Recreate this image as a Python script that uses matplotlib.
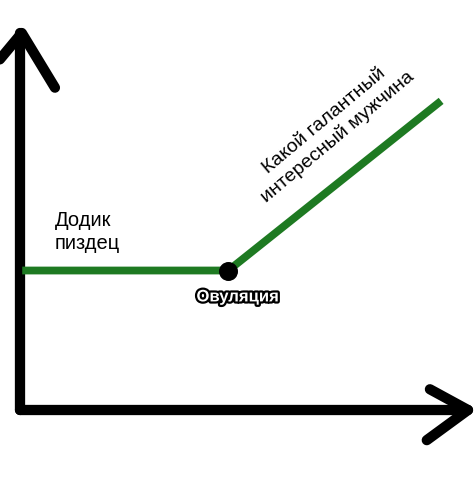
import matplotlib.pyplot as plt
import matplotlib.patheffects as pe

# Значения (условные единицы, 0..10 по обеим осям)
phase_x = [0.05, 4.65, 9.4]
mood_y = [3.7, 3.7, 8.2]
ovulation_x = 4.65
ovulation_y = 3.7

label_low = "Додик\nпиздец"
label_high = "Какой галантный\nинтересный мужчина"
label_dot = "Овуляция"

W, H = 474, 480
fig = plt.figure(figsize=(W / 100, H / 100), dpi=100)
fig.patch.set_facecolor("white")

# оси: начало в (20, 410) px, конец стрелок (468, 33) px
ax = fig.add_axes([20 / W, (H - 410) / H, (468 - 20) / W, (410 - 33) / H])
ax.set_xlim(0, 10)
ax.set_ylim(0, 10)
ax.axis("off")

# нарисованные от руки оси со стрелками (в долях осей)
axis_kw = dict(color="black", lw=7.4, solid_capstyle="round",
               solid_joinstyle="round", clip_on=False, transform=ax.transAxes)
ax.plot([0.0, 0.0], [0.0, 1.0], **axis_kw)
ax.plot([0.0, 1.0], [0.0, 0.0], **axis_kw)
ax.plot([-0.045, 0.004, 0.078], [0.93, 1.0, 0.855], **axis_kw)
ax.plot([0.915, 1.0, 0.908], [0.055, 0.0, -0.08], **axis_kw)

# линия графика
ax.plot(phase_x, mood_y, color="#1e7a22", lw=5.6, solid_capstyle="butt",
        zorder=3, clip_on=False)
ax.scatter([ovulation_x], [ovulation_y], s=160, color="black", zorder=4)

font = ["Liberation Sans", "DejaVu Sans"]
ax.text(0.78, 4.73, label_low, family=font, fontsize=14.5, ha="left",
        va="center", linespacing=1.25)
ax.text(ovulation_x + 0.2, 3.0, label_dot, family=font, fontsize=12,
        fontweight="bold", ha="center", va="center", color="white",
        path_effects=[pe.withStroke(linewidth=3.2, foreground="black")])
ax.text(6.95, 7.45, label_high, family=font, fontsize=14, rotation=40,
        rotation_mode="anchor", ha="center", va="center", linespacing=1.2)

fig.savefig("out.png", dpi=100)
